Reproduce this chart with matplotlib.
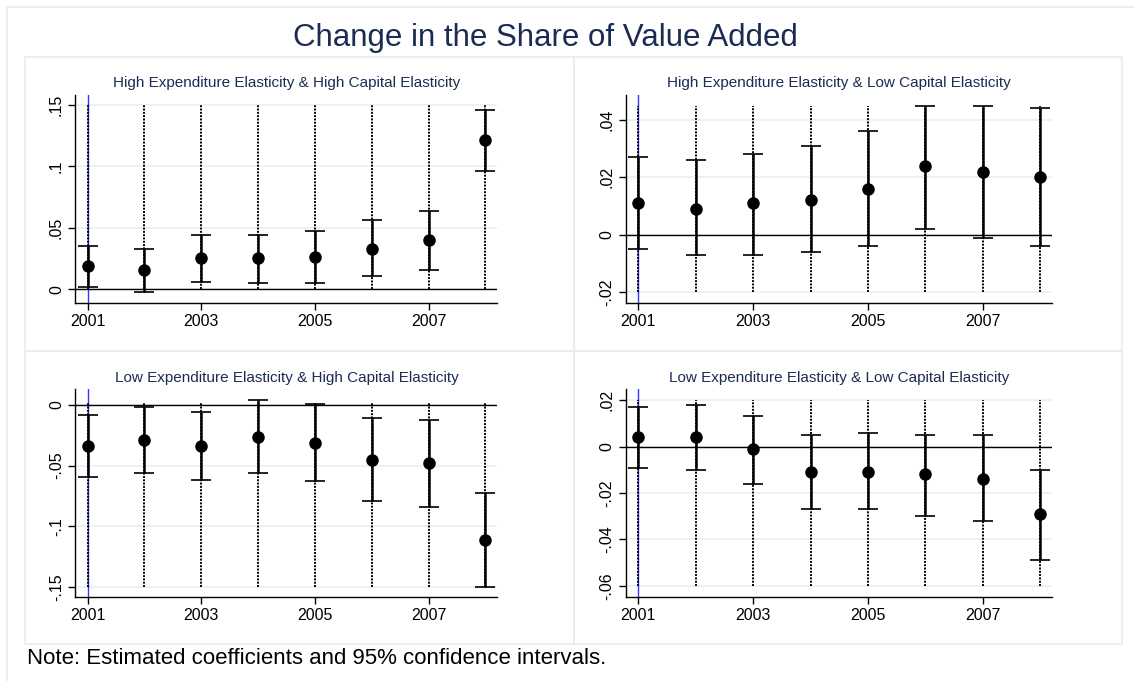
import matplotlib.pyplot as plt
from matplotlib.patches import Rectangle

plt.rcParams['font.family'] = ['Liberation Sans', 'DejaVu Sans']

years = [2001, 2002, 2003, 2004, 2005, 2006, 2007, 2008]
xticks = [2001, 2003, 2005, 2007]

titles = [
    "High Expenditure Elasticity & High Capital Elasticity",
    "High Expenditure Elasticity & Low Capital Elasticity",
    "Low Expenditure Elasticity & High Capital Elasticity",
    "Low Expenditure Elasticity & Low Capital Elasticity",
]

# coefficient, lower and upper 95% CI per panel
coef_hh = [0.019, 0.016, 0.025, 0.025, 0.026, 0.033, 0.040, 0.121]
lo_hh = [0.002, -0.002, 0.006, 0.005, 0.005, 0.011, 0.016, 0.096]
hi_hh = [0.035, 0.033, 0.044, 0.044, 0.047, 0.056, 0.064, 0.146]

coef_hl = [0.011, 0.009, 0.011, 0.012, 0.016, 0.024, 0.022, 0.020]
lo_hl = [-0.005, -0.007, -0.007, -0.006, -0.004, 0.002, -0.001, -0.004]
hi_hl = [0.027, 0.026, 0.028, 0.031, 0.036, 0.045, 0.045, 0.044]

coef_lh = [-0.034, -0.029, -0.034, -0.026, -0.031, -0.045, -0.048, -0.111]
lo_lh = [-0.059, -0.056, -0.062, -0.056, -0.063, -0.079, -0.084, -0.150]
hi_lh = [-0.008, -0.002, -0.006, 0.004, 0.001, -0.011, -0.012, -0.073]

coef_ll = [0.004, 0.004, -0.001, -0.011, -0.011, -0.012, -0.014, -0.029]
lo_ll = [-0.009, -0.010, -0.016, -0.027, -0.027, -0.030, -0.032, -0.049]
hi_ll = [0.017, 0.018, 0.013, 0.005, 0.006, 0.005, 0.005, -0.010]

# dotted spikes range per panel
spike_hh = [0.0, 0.15]
spike_hl = [-0.02, 0.045]
spike_lh = [-0.15, 0.002]
spike_ll = [-0.06, 0.02]

yticks_hh = [0, 0.05, 0.1, 0.15]
ytl_hh = ["0", ".05", ".1", ".15"]
yticks_hl = [-0.02, 0, 0.02, 0.04]
ytl_hl = ["-.02", "0", ".02", ".04"]
yticks_lh = [-0.15, -0.1, -0.05, 0]
ytl_lh = ["-.15", "-.1", "-.05", "0"]
yticks_ll = [-0.06, -0.04, -0.02, 0, 0.02]
ytl_ll = ["-.06", "-.04", "-.02", "0", ".02"]

panels = [
    (coef_hh, lo_hh, hi_hh, spike_hh, yticks_hh, ytl_hh, (-0.0112, 0.158)),
    (coef_hl, lo_hl, hi_hl, spike_hl, yticks_hl, ytl_hl, (-0.0238, 0.0487)),
    (coef_lh, lo_lh, hi_lh, spike_lh, yticks_lh, ytl_lh, (-0.1587, 0.013)),
    (coef_ll, lo_ll, hi_ll, spike_ll, yticks_ll, ytl_ll, (-0.0649, 0.0247)),
]

W, H = 1134, 681
fig = plt.figure(figsize=(W / 100, H / 100), dpi=100)
fig.patch.set_facecolor('white')

frame_col = '#e6eef0'
navy = '#1c2b52'


def px_rect(x0, y0, x1, y1):
    return [x0 / W, 1 - y1 / H, (x1 - x0) / W, (y1 - y0) / H]


# outer frame and panel frames
fig.add_artist(Rectangle((7 / W, -0.1), 1.2, 1 - 7 / H + 0.1, transform=fig.transFigure,
                         fill=False, ec=frame_col, lw=1.2))
for (x0, y0, x1, y1) in [(25, 57, 574, 351), (574, 57, 1122, 351),
                         (25, 351, 574, 644), (574, 351, 1122, 644)]:
    r = px_rect(x0, y0, x1, y1)
    fig.add_artist(Rectangle((r[0], r[1]), r[2], r[3], transform=fig.transFigure,
                             fill=False, ec=frame_col, lw=1.2))

fig.text(545 / W, 1 - 38 / H, "Change in the Share of Value Added", color=navy,
         fontsize=22.5, ha='center', va='center')
fig.text(27 / W, 1 - 658 / H, "Note: Estimated coefficients and 95% confidence intervals.",
         fontsize=16, ha='left', va='center')

axes_px = [(75, 95, 497.3, 303), (625.7, 95, 1052.3, 303),
           (75, 389.3, 497.3, 597.3), (625.7, 389.3, 1052.3, 597.3)]
title_x = [286.5, 839, 286.5, 839]
title_y = [83, 83, 378, 378]

for i, (coef, lo, hi, spike, yt, ytl, ylim) in enumerate(panels):
    ax = fig.add_axes(px_rect(*axes_px[i]))
    ax.set_xlim(2000.78, 2008.21)
    ax.set_ylim(*ylim)
    for yv in yt:
        ax.axhline(yv, color='#e8f0f1', lw=1.2, zorder=0)
    ax.axvline(2001, color='#3535ff', lw=1.0, zorder=1)
    ax.vlines(years, spike[0], spike[1], colors='k', linestyles=(0, (1, 0.7)), lw=1.4, zorder=2)
    ax.axhline(0, color='k', lw=1.0, zorder=2)
    yerr = [[c - l for c, l in zip(coef, lo)], [h - c for c, h in zip(coef, hi)]]
    ax.errorbar(years, coef, yerr=yerr, fmt='o', color='k', ms=8, capsize=7.5,
                elinewidth=1.8, capthick=1.2, zorder=3)
    ax.set_xticks(xticks)
    ax.set_xticklabels([str(x) for x in xticks], fontsize=11.5)
    ax.set_yticks(yt)
    ax.set_yticklabels(ytl, fontsize=11.5, rotation=90, va='center')
    ax.tick_params(direction='out', length=5, width=1, color='k', pad=3)
    for s in ['top', 'right']:
        ax.spines[s].set_visible(False)
    for s in ['left', 'bottom']:
        ax.spines[s].set_linewidth(1.0)
    ax.set_facecolor('white')
    fig.text(title_x[i] / W, 1 - title_y[i] / H, titles[i], color=navy, fontsize=11,
             ha='center', va='center')

fig.savefig('out.png', dpi=100)
